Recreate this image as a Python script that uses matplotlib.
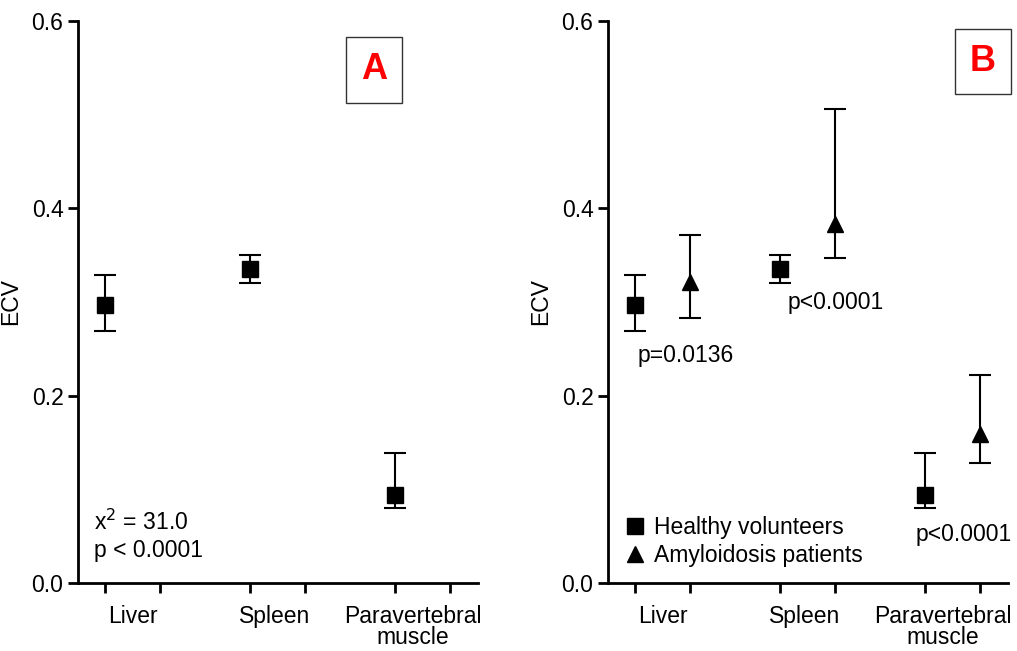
import matplotlib
matplotlib.use('Agg')
import matplotlib.pyplot as plt
from matplotlib.lines import Line2D

plt.rcParams['font.family'] = ['Liberation Sans', 'DejaVu Sans']

# ── data ─────────────────────────────────────────────
regions = ['Liver', 'Spleen', 'Paravertebral\nmuscle']
healthy_mid = [0.297, 0.335, 0.094]
healthy_lo = [0.269, 0.320, 0.080]
healthy_hi = [0.329, 0.350, 0.139]
amyl_mid = [0.321, 0.383, 0.159]
amyl_lo = [0.283, 0.347, 0.128]
amyl_hi = [0.372, 0.506, 0.222]
p_texts = ['p=0.0136', 'p<0.0001', 'p<0.0001']
yticks = [0.0, 0.2, 0.4, 0.6]

# x positions (pair spacing 1, group spacing ~2.64)
gpos = [0.0, 2.64, 5.27]
hx = gpos
ax_x = [g + 1 for g in gpos]
lab_off = [0.5, 0.45, 0.33]   # category label offset inside each group

FS = 16.5
W, H = 1017, 651
fig = plt.figure(figsize=(W / 100, H / 100), dpi=100)
fig.patch.set_facecolor('white')


def style(ax):
    ax.set_xlim(-0.49, 6.78)
    ax.set_ylim(0, 0.6)
    for s in ['top', 'right']:
        ax.spines[s].set_visible(False)
    for s in ['left', 'bottom']:
        ax.spines[s].set_linewidth(2)
    ax.set_yticks(yticks)
    ax.set_yticklabels(['%.1f' % v for v in yticks])
    ax.set_xticks(hx + ax_x)
    ax.set_xticklabels([])
    ax.set_xticks([g + o for g, o in zip(gpos, lab_off)], minor=True)
    ax.set_xticklabels(regions, minor=True, fontsize=FS, linespacing=0.9)
    ax.tick_params(axis='x', which='minor', length=0, pad=16)
    ax.tick_params(axis='both', which='major', width=2, length=7, labelsize=FS,
                   color='black')
    ax.set_ylabel('ECV', fontsize=FS)
    ax.yaxis.set_label_coords(-0.14, 0.5)


def err(mid, lo, hi):
    return [[m - l for m, l in zip(mid, lo)], [h - m for m, h in zip(mid, hi)]]


def label_box(ax, letter, xy):
    ax.text(xy[0], xy[1], letter, transform=ax.transAxes, fontsize=26,
            fontweight='bold', color='#ff0000', ha='center', va='center',
            bbox=dict(boxstyle='square,pad=0.42', facecolor='white',
                      edgecolor='#333333', linewidth=1.0))


# ── panel A ──────────────────────────────────────────
axA = fig.add_axes([78 / W, 1 - 583 / H, 400 / W, 562 / H])
style(axA)
axA.errorbar(hx, healthy_mid, yerr=err(healthy_mid, healthy_lo, healthy_hi),
             fmt='s', color='black', ms=12, capsize=8, elinewidth=1.5,
             capthick=1.5)
axA.text(0.04, 0.108, 'x$^2$ = 31.0', transform=axA.transAxes, fontsize=FS,
         va='center')
axA.text(0.04, 0.057, 'p < 0.0001', transform=axA.transAxes, fontsize=FS,
         va='center')
label_box(axA, 'A', (0.74, 0.913))

# ── panel B ──────────────────────────────────────────
axB = fig.add_axes([608 / W, 1 - 583 / H, 400 / W, 562 / H])
style(axB)
axB.errorbar(hx, healthy_mid, yerr=err(healthy_mid, healthy_lo, healthy_hi),
             fmt='s', color='black', ms=12, capsize=8, elinewidth=1.5,
             capthick=1.5)
axB.errorbar(ax_x, amyl_mid, yerr=err(amyl_mid, amyl_lo, amyl_hi),
             fmt='^', color='black', ms=12, capsize=8, elinewidth=1.5,
             capthick=1.5)
p_pos = [(0.075, 0.405), (0.45, 0.5), (0.77, 0.087)]
for (px, py), t in zip(p_pos, p_texts):
    axB.text(px, py, t, transform=axB.transAxes, fontsize=FS, va='center')
label_box(axB, 'B', (0.9375, 0.928))

handles = [
    Line2D([], [], marker='s', color='black', ls='none', ms=12,
           label='Healthy volunteers'),
    Line2D([], [], marker='^', color='black', ls='none', ms=12,
           label='Amyloidosis patients'),
]
axB.legend(handles=handles, loc='lower left', bbox_to_anchor=(0.005, 0.0),
           frameon=False, fontsize=FS, handlelength=0.8, handletextpad=0.4,
           labelspacing=0.22, borderaxespad=0.3)

fig.savefig('out.png', dpi=100, facecolor='white')
